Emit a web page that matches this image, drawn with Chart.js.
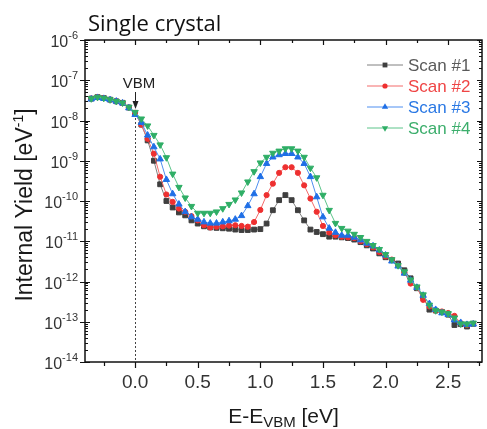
<!DOCTYPE html>
<html>
<head>
<meta charset="utf-8">
<title>Internal yield - single crystal</title>
<script src="https://cdn.jsdelivr.net/npm/chart.js@4.4.0/dist/chart.umd.min.js"></script>
<style>
    html, body { margin: 0; padding: 0; background: #fff; }
    #wrap { width: 487px; height: 429px; }
</style>
</head>
<body>
<div id="wrap"><canvas id="yieldChart" width="487" height="429"></canvas></div>
<script>
/* -------- Data -------- */
// photon energy relative to the valence band maximum [eV]
const energy = [
    -0.35, -0.30, -0.25, -0.20, -0.15, -0.10, -0.05, 0.00, 0.05, 0.10,
    0.15, 0.20, 0.25, 0.30, 0.35, 0.40, 0.45, 0.50, 0.55, 0.60,
    0.65, 0.70, 0.75, 0.80, 0.85, 0.90, 0.95, 1.00, 1.05, 1.10,
    1.15, 1.20, 1.25, 1.30, 1.35, 1.40, 1.45, 1.50, 1.55, 1.60,
    1.65, 1.70, 1.75, 1.80, 1.85, 1.90, 1.95, 2.00, 2.05, 2.10,
    2.15, 2.20, 2.25, 2.30, 2.35, 2.40, 2.45, 2.50, 2.55, 2.60,
    2.65, 2.70,
];

// internal yield [eV^-1]
const scan1 = [
    3.5e-8, 3.8e-8, 3.6e-8, 3.3e-8, 3.0e-8, 2.75e-8, 2.1e-8, 1.55e-8,
    7.9e-9, 3.2e-9, 1.0e-9, 2.6e-10, 1.0e-10, 6.9e-11, 5.2e-11, 4.4e-11, 3.3e-11, 2.75e-11,
    2.35e-11, 2.2e-11, 2.15e-11, 2.1e-11, 2.05e-11, 1.95e-11, 1.9e-11, 1.9e-11, 1.95e-11, 2.0e-11,
    2.75e-11, 5.9e-11, 1.05e-10, 1.4e-10, 1.05e-10, 5.9e-11, 3.3e-11, 1.95e-11, 1.7e-11, 1.5e-11,
    1.3e-11, 1.3e-11, 1.25e-11, 1.2e-11, 1.1e-11, 9.5e-12, 7.9e-12, 6.6e-12, 5.0e-12, 4.0e-12,
    3.4e-12, 2.8e-12, 1.9e-12, 1.2e-12, 6.8e-13, 4.2e-13, 2.0e-13, 1.9e-13, 1.75e-13, 1.5e-13,
    8.3e-14, 8.7e-14, 7.6e-14, 8.9e-14,
];
const scan2 = [
    3.5e-8, 3.8e-8, 3.6e-8, 3.3e-8, 3.0e-8, 2.75e-8, 2.1e-8, 1.55e-8,
    7.9e-9, 3.5e-9, 1.5e-9, 4.0e-10, 1.45e-10, 9.5e-11, 6.5e-11, 5.4e-11, 4.2e-11, 3.3e-11,
    2.5e-11, 2.2e-11, 2.3e-11, 2.35e-11, 2.45e-11, 2.5e-11, 2.4e-11, 2.3e-11, 3.0e-11, 6.0e-11,
    1.4e-10, 2.7e-10, 5.0e-10, 6.9e-10, 6.9e-10, 5.0e-10, 2.45e-10, 1.15e-10, 5.4e-11, 2.4e-11,
    1.65e-11, 1.4e-11, 1.3e-11, 1.25e-11, 1.2e-11, 1.0e-11, 8.5e-12, 7.1e-12, 5.4e-12, 4.2e-12,
    3.5e-12, 2.5e-12, 1.65e-12, 8.9e-13, 7.1e-13, 3.5e-13, 2.4e-13, 1.9e-13, 1.8e-13, 1.65e-13,
    1.4e-13, 9.3e-14, 8.3e-14, 8.9e-14,
];
const scan3 = [
    3.4e-8, 3.7e-8, 3.5e-8, 3.25e-8, 3.0e-8, 2.7e-8, 2.05e-8, 1.4e-8,
    8.9e-9, 4.3e-9, 2.2e-9, 1.1e-9, 3.4e-10, 1.5e-10, 8.3e-11, 5.4e-11, 4.0e-11, 3.5e-11,
    3.0e-11, 2.8e-11, 2.8e-11, 3.0e-11, 3.2e-11, 3.5e-11, 4.3e-11, 7.6e-11, 1.5e-10, 4.0e-10,
    8.5e-10, 1.23e-9, 1.4e-9, 1.5e-9, 1.5e-9, 1.23e-9, 8.5e-10, 4.0e-10, 1.26e-10, 4.0e-11,
    2.1e-11, 1.65e-11, 1.4e-11, 1.4e-11, 1.25e-11, 1.07e-11, 8.9e-12, 7.6e-12, 6.0e-12, 4.5e-12,
    3.2e-12, 2.4e-12, 1.6e-12, 1.07e-12, 7.1e-13, 4.5e-13, 2.8e-13, 2.0e-13, 1.65e-13, 1.5e-13,
    1.1e-13, 9.5e-14, 8.5e-14, 8.7e-14,
];
const scan4 = [
    3.5e-8, 3.8e-8, 3.6e-8, 3.3e-8, 3.0e-8, 2.75e-8, 2.15e-8, 1.6e-8,
    1.1e-8, 7.4e-9, 4.3e-9, 2.5e-9, 1.2e-9, 4.7e-10, 2.2e-10, 1.2e-10, 7.4e-11, 5.0e-11,
    5.0e-11, 5.0e-11, 5.4e-11, 6.5e-11, 8.3e-11, 1.07e-10, 1.6e-10, 3.0e-10, 5.4e-10, 8.9e-10,
    1.23e-9, 1.55e-9, 1.75e-9, 2.0e-9, 2.0e-9, 1.75e-9, 1.23e-9, 6.6e-10, 3.8e-10, 1.4e-10,
    5.9e-11, 2.8e-11, 2.1e-11, 1.8e-11, 1.5e-11, 1.25e-11, 1.0e-11, 7.9e-12, 6.3e-12, 4.7e-12,
    3.5e-12, 2.5e-12, 1.75e-12, 1.1e-12, 7.4e-13, 4.7e-13, 2.6e-13, 1.9e-13, 1.75e-13, 1.6e-13,
    1.25e-13, 8.9e-14, 8.9e-14, 9.3e-14,
];

const xMajorTicks = [0.0, 0.5, 1.0, 1.5, 2.0, 2.5];
const xMinorTicks = [-0.25, 0.25, 0.75, 1.25, 1.75, 2.25, 2.75];
const yDecades = [-6, -7, -8, -9, -10, -11, -12, -13, -14];

const series = [
    { label: 'Scan #1', values: scan1, line: '#808080', mark: '#3f3f3f', text: '#5a5a5a', style: 'rect', rot: 0, r: 3.4 },
    { label: 'Scan #2', values: scan2, line: '#f36a6a', mark: '#ee3030', text: '#ef4545', style: 'circle', rot: 0, r: 2.6 },
    { label: 'Scan #3', values: scan3, line: '#4f8ff0', mark: '#1f6fe6', text: '#2a78e4', style: 'triangle', rot: 0, r: 3.7 },
    { label: 'Scan #4', values: scan4, line: '#5cc48a', mark: '#2fae66', text: '#3cae6c', style: 'triangle', rot: 180, r: 3.7 },
];

const SANS = '"Liberation Sans", Arial, sans-serif';

/* -------- Drawing helpers -------- */
function marker(ctx, s, x, y) {
    ctx.fillStyle = s.mark;
    ctx.beginPath();
    if (s.style === 'rect') {
        const h = s.r * Math.SQRT1_2;
        ctx.rect(x - h, y - h, 2 * h, 2 * h);
    } else if (s.style === 'circle') {
        ctx.arc(x, y, s.r, 0, Math.PI * 2);
    } else {
        const d = s.rot ? -1 : 1;
        ctx.moveTo(x, y - d * s.r);
        ctx.lineTo(x - s.r * 0.866, y + d * s.r * 0.5);
        ctx.lineTo(x + s.r * 0.866, y + d * s.r * 0.5);
        ctx.closePath();
    }
    ctx.fill();
}

// "10" with a raised exponent, right edge at xr
function powerLabel(ctx, exp, xr, yc) {
    const sup = String(exp);
    ctx.font = '11px ' + SANS;
    const wSup = ctx.measureText(sup).width;
    ctx.textAlign = 'left';
    ctx.textBaseline = 'alphabetic';
    ctx.fillText(sup, xr - wSup, yc - 1);
    ctx.font = '16px ' + SANS;
    const wBase = ctx.measureText('10').width;
    ctx.fillText('10', xr - wSup - wBase, yc + 7);
}

const decorations = {
    id: 'decorations',
    beforeDatasetsDraw(chart) {
        const { ctx, chartArea: a, scales: { x } } = chart;
        const x0 = Math.round(x.getPixelForValue(0)) + 0.5;
        ctx.save();
        ctx.strokeStyle = '#444';
        ctx.lineWidth = 1;
        ctx.setLineDash([2, 2]);
        ctx.beginPath();
        ctx.moveTo(x0, 110);
        ctx.lineTo(x0, a.bottom);
        ctx.stroke();
        ctx.restore();
    },
    afterDraw(chart) {
        const { ctx, chartArea: a, scales: { x, y } } = chart;
        ctx.save();

        // axis box
        ctx.strokeStyle = '#111';
        ctx.lineWidth = 1.5;
        ctx.strokeRect(a.left, a.top, a.right - a.left, a.bottom - a.top);

        // x ticks: out at the bottom, in at the top
        ctx.lineWidth = 1.2;
        ctx.beginPath();
        xMajorTicks.forEach((v) => {
            const px = Math.round(x.getPixelForValue(v)) + 0.5;
            ctx.moveTo(px, a.bottom); ctx.lineTo(px, a.bottom + 6);
            ctx.moveTo(px, a.top); ctx.lineTo(px, a.top + 5);
        });
        xMinorTicks.forEach((v) => {
            const px = Math.round(x.getPixelForValue(v)) + 0.5;
            ctx.moveTo(px, a.bottom); ctx.lineTo(px, a.bottom + 4);
            ctx.moveTo(px, a.top); ctx.lineTo(px, a.top + 3);
        });
        ctx.stroke();

        // y ticks: decades plus 2..9 minors on both sides
        ctx.lineWidth = 1;
        ctx.beginPath();
        yDecades.forEach((e) => {
            const py = Math.round(y.getPixelForValue(Math.pow(10, e))) + 0.5;
            ctx.moveTo(a.left - 5, py); ctx.lineTo(a.left + 5, py);
            ctx.moveTo(a.right, py); ctx.lineTo(a.right - 5, py);
            if (e === -6) return;
            for (let m = 2; m <= 9; m++) {
                const pm = Math.round(y.getPixelForValue(m * Math.pow(10, e))) + 0.5;
                ctx.moveTo(a.left, pm); ctx.lineTo(a.left + 3, pm);
                ctx.moveTo(a.right, pm); ctx.lineTo(a.right - 3, pm);
            }
        });
        ctx.stroke();

        // tick labels
        ctx.fillStyle = '#333';
        yDecades.forEach((e) => {
            powerLabel(ctx, e, 78, y.getPixelForValue(Math.pow(10, e)));
        });
        ctx.font = '19px ' + SANS;
        ctx.textAlign = 'center';
        ctx.textBaseline = 'alphabetic';
        xMajorTicks.forEach((v) => {
            ctx.fillText(v.toFixed(1), x.getPixelForValue(v), 388);
        });

        // axis titles
        ctx.fillStyle = '#1a1a1a';
        ctx.font = '21px ' + SANS;
        const sub = 'VBM', pre = 'E-E', post = ' [eV]';
        const wPre = ctx.measureText(pre).width;
        const wPost = ctx.measureText(post).width;
        ctx.font = '15px ' + SANS;
        const wSub = ctx.measureText(sub).width;
        let tx = (a.left + a.right) / 2 - (wPre + wSub + wPost) / 2;
        ctx.textAlign = 'left';
        ctx.font = '21px ' + SANS;
        ctx.fillText(pre, tx, 423);
        ctx.font = '15px ' + SANS;
        ctx.fillText(sub, tx + wPre, 427);
        ctx.font = '21px ' + SANS;
        ctx.fillText(post, tx + wPre + wSub, 423);

        ctx.save();
        ctx.translate(32, 205);
        ctx.rotate(-Math.PI / 2);
        ctx.font = '23px ' + SANS;
        const main = 'Internal Yield [eV', close = ']', sup = '-1';
        const wMain = ctx.measureText(main).width;
        const wClose = ctx.measureText(close).width;
        ctx.font = '14px ' + SANS;
        const wSup = ctx.measureText(sup).width;
        let ty = -(wMain + wSup + wClose) / 2;
        ctx.font = '23px ' + SANS;
        ctx.fillText(main, ty, 0);
        ctx.font = '14px ' + SANS;
        ctx.fillText(sup, ty + wMain, -9);
        ctx.font = '23px ' + SANS;
        ctx.fillText(close, ty + wMain + wSup, 0);
        ctx.restore();

        // panel title
        ctx.fillStyle = '#111';
        ctx.font = '22px "Open Sans", sans-serif';
        ctx.fillText('Single crystal', 88, 31);

        // VBM marker
        ctx.fillStyle = '#222';
        ctx.font = '15px ' + SANS;
        ctx.textAlign = 'center';
        ctx.fillText('VBM', 139, 88);
        const xa = Math.round(x.getPixelForValue(0)) + 0.5;
        ctx.strokeStyle = '#222';
        ctx.lineWidth = 1;
        ctx.beginPath();
        ctx.moveTo(xa, 92); ctx.lineTo(xa, 103);
        ctx.stroke();
        ctx.beginPath();
        ctx.moveTo(xa - 3, 101); ctx.lineTo(xa + 3, 101); ctx.lineTo(xa, 109);
        ctx.closePath();
        ctx.fill();

        // legend
        ctx.textAlign = 'left';
        ctx.textBaseline = 'middle';
        ctx.font = '17px ' + SANS;
        series.forEach((s, i) => {
            const ly = 65 + i * 21;
            ctx.strokeStyle = s.line;
            ctx.lineWidth = 1;
            ctx.beginPath();
            ctx.moveTo(367, ly); ctx.lineTo(403, ly);
            ctx.stroke();
            marker(ctx, s, 385, ly);
            ctx.fillStyle = s.text;
            ctx.fillText(s.label, 408, ly + 1);
        });

        ctx.restore();
    },
};

/* -------- Chart -------- */
const datasets = series.map((s, i) => ({
    label: s.label,
    data: energy.map((e, k) => ({ x: e, y: s.values[k] })),
    borderColor: s.line,
    borderWidth: 1,
    pointStyle: s.style,
    rotation: s.rot,
    pointRadius: s.r,
    pointBackgroundColor: s.mark,
    pointBorderColor: s.mark,
    pointBorderWidth: 1,
    tension: 0,
    fill: false,
    order: series.length - i,
}));

new Chart(document.getElementById('yieldChart').getContext('2d'), {
    type: 'line',
    data: { datasets },
    options: {
        responsive: false,
        animation: false,
        devicePixelRatio: 1,
        layout: { padding: { left: 85, top: 40, right: 4, bottom: 67 } },
        plugins: { legend: { display: false }, tooltip: { enabled: false } },
        scales: {
            x: { type: 'linear', min: -0.4, max: 2.77, display: false },
            y: { type: 'logarithmic', min: 1e-14, max: 1e-6, display: false },
        },
    },
    plugins: [decorations],
});
</script>
</body>
</html>
